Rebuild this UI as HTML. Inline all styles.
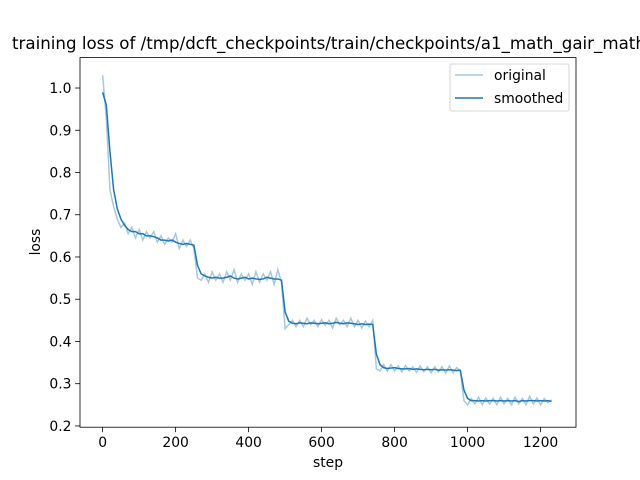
<!DOCTYPE html>
<html><head><meta charset="utf-8">
<style>
html,body{margin:0;padding:0;background:#fff;}
svg{display:block;font-family:"DejaVu Sans","Liberation Sans",sans-serif;}
</style></head>
<body>
<svg id="chart" width="640" height="480" viewBox="0 0 640 480">
<rect width="640" height="480" fill="#fff"/>
<text x="12" y="49" font-size="16.67" fill="#000">training loss of /tmp/dcft_checkpoints/train/checkpoints/a1_math_gair_math</text>
<g id="series"></g>
<rect x="80" y="57.6" width="496" height="369.6" fill="none" stroke="#000" stroke-width="0.8"/>
<g id="xticks"></g><g id="yticks"></g>
<text x="328" y="467" font-size="13.9" text-anchor="middle">step</text>
<text x="0" y="0" font-size="13.9" text-anchor="middle" transform="translate(40,242) rotate(-90)">loss</text>
<g>
<rect x="450" y="64" width="119" height="47" rx="2" fill="#fff" fill-opacity="0.8" stroke="#ccc" stroke-width="0.8"/>
<g>
<line x1="455" y1="75" x2="483" y2="75" stroke="#1f77b4" stroke-opacity="0.4" stroke-width="1.5"/>
<text x="494" y="80" font-size="13.9">original</text></g>
<g>
<line x1="455" y1="98" x2="483" y2="98" stroke="#1f77b4" stroke-width="1.5"/>
<text x="494" y="103" font-size="13.9">smoothed</text></g>
</g>
</svg>
<script>
const steps = [];
for (let i = 0; i <= 123; i++) steps.push(i * 10);
const originalLoss = [1.03,0.93,0.76,0.72,0.69,0.67,0.68,0.655,0.67,0.645,
0.665,0.64,0.66,0.645,0.66,0.635,0.65,0.63,0.645,0.635,
0.655,0.62,0.64,0.625,0.64,0.62,0.55,0.545,0.56,0.54,
0.565,0.545,0.56,0.54,0.565,0.545,0.57,0.54,0.56,0.545,
0.56,0.535,0.565,0.54,0.56,0.545,0.565,0.535,0.57,0.54,
0.43,0.44,0.45,0.435,0.45,0.435,0.455,0.44,0.45,0.435,
0.452,0.438,0.45,0.432,0.455,0.44,0.45,0.435,0.455,0.435,
0.45,0.432,0.448,0.435,0.45,0.335,0.33,0.345,0.33,0.345,
0.33,0.342,0.328,0.343,0.33,0.34,0.327,0.342,0.328,0.34,
0.326,0.34,0.328,0.34,0.325,0.342,0.326,0.338,0.33,0.26,
0.25,0.265,0.252,0.268,0.25,0.266,0.252,0.265,0.25,0.268,
0.252,0.265,0.25,0.268,0.252,0.265,0.25,0.27,0.252,0.266,
0.25,0.265,0.255,0.262];
const smoothedLoss = [0.99,0.96,0.85,0.76,0.715,0.69,0.675,0.665,0.66,0.66,
0.655,0.655,0.65,0.65,0.648,0.645,0.64,0.64,0.638,0.64,
0.635,0.632,0.63,0.632,0.63,0.628,0.58,0.56,0.555,0.552,
0.55,0.552,0.55,0.55,0.552,0.555,0.55,0.548,0.55,0.552,
0.548,0.55,0.548,0.547,0.548,0.552,0.55,0.548,0.548,0.545,
0.47,0.448,0.443,0.442,0.444,0.443,0.442,0.444,0.443,0.442,
0.443,0.444,0.442,0.443,0.445,0.443,0.442,0.444,0.443,0.442,
0.44,0.442,0.44,0.441,0.44,0.37,0.345,0.338,0.336,0.337,
0.338,0.336,0.335,0.335,0.336,0.334,0.335,0.334,0.333,0.334,
0.333,0.334,0.332,0.333,0.332,0.333,0.332,0.331,0.332,0.285,
0.265,0.26,0.26,0.259,0.26,0.259,0.26,0.26,0.259,0.26,
0.259,0.26,0.259,0.26,0.258,0.26,0.259,0.26,0.26,0.259,
0.26,0.259,0.26,0.258];
const xTicks = [0,200,400,600,800,1000,1200];
const yTicks = [0.2,0.3,0.4,0.5,0.6,0.7,0.8,0.9,1.0];

const NS = "http://www.w3.org/2000/svg";
const X0 = 80, X1 = 576, Y0 = 427.2, Y1 = 57.6;
const xMin = -62, xMax = 1297, yMin = 0.197, yMax = 1.072;
const xs = v => X0 + (v - xMin) / (xMax - xMin) * (X1 - X0);
const ys = v => Y0 - (v - yMin) / (yMax - yMin) * (Y0 - Y1);

function mk(tag, attrs, parent) {
  const el = document.createElementNS(NS, tag);
  for (const k in attrs) el.setAttribute(k, attrs[k]);
  parent.appendChild(el);
  return el;
}
const series = document.getElementById("series");
const pts = arr => arr.map((v, i) => xs(steps[i]).toFixed(2) + "," + ys(v).toFixed(2)).join(" ");
const lo = mk("polyline", {points: pts(originalLoss), fill: "none", stroke: "#1f77b4", "stroke-opacity": 0.4, "stroke-width": 1.5}, series);


const ls = mk("polyline", {points: pts(smoothedLoss), fill: "none", stroke: "#1f77b4", "stroke-width": 1.5}, series);



const gx = document.getElementById("xticks");
xTicks.forEach(t => {
  const x = xs(t);
  const tk = mk("line", {x1: x, x2: x, y1: Y0, y2: Y0 + 4.9, stroke: "#000", "stroke-width": 0.8}, gx);
  
  
  const lb = mk("text", {x: x, y: Y0 + 20, "font-size": 13.9, "text-anchor": "middle"}, gx);
  lb.textContent = t;
  
  
});
const gy = document.getElementById("yticks");
yTicks.forEach(t => {
  const y = ys(t);
  const tk = mk("line", {x1: X0 - 4.9, x2: X0, y1: y, y2: y, stroke: "#000", "stroke-width": 0.8}, gy);
  
  
  const lb = mk("text", {x: X0 - 8.5, y: y + 5, "font-size": 13.9, "text-anchor": "end"}, gy);
  lb.textContent = t.toFixed(1);
  
  
});
</script>
</body></html>
